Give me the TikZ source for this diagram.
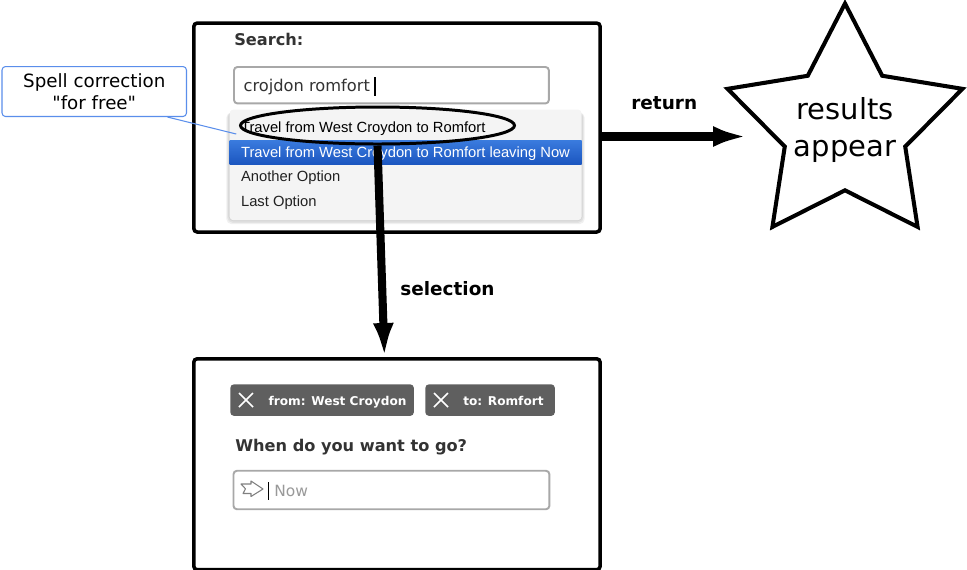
\documentclass[tikz,border=0pt]{standalone}
\usepackage{fontspec}
\setmainfont{DejaVu Sans}
\newfontfamily\arialfont{Liberation Sans}
\usetikzlibrary{arrows.meta,positioning,shapes.geometric}
\definecolor{uitext}{HTML}{333333}
\definecolor{fieldline}{HTML}{A8A8A8}
\definecolor{menufill}{HTML}{F4F4F4}
\definecolor{chipfill}{HTML}{5F5F5F}
\definecolor{notecol}{HTML}{5A8EEB}
\definecolor{hitop}{HTML}{3A7BDE}
\definecolor{hibot}{HTML}{1B55BF}

\begin{document}
\begin{tikzpicture}[
    x=0.02cm, y=-0.02cm,
    >={Latex[length=0.68cm,width=0.42cm]},
    screen/.style={
        draw,
        line width=2pt,
        rounded corners=2pt,
        anchor=north west,
        inner sep=0pt
    },
    field/.style={
        draw=fieldline,
        line width=1.1pt,
        rounded corners=2pt,
        fill=white,
        anchor=north west,
        inner sep=0pt
    },
    chip/.style={
        fill=chipfill,
        rounded corners=2pt,
        anchor=north west,
        inner sep=0pt,
        minimum height=0.63cm
    },
    lbl/.style={inner sep=0pt, anchor=base west},
    uihead/.style={lbl, text=uitext, font=\fontsize{9.2}{11}\selectfont\bfseries},
    option/.style={lbl, text=black!87, font=\arialfont\fontsize{8.4}{10}\selectfont},
    chiptext/.style={lbl, text=white, font=\fontsize{6.9}{8}\selectfont\bfseries},
    steplabel/.style={lbl, font=\fontsize{10.5}{12}\selectfont\bfseries},
    flow/.style={->, line width=4.6pt}
  ]
  \useasboundingbox (0,0) rectangle (967,569);

  % the two screens
  \node [screen, minimum width=8.13cm, minimum height=4.18cm] (searchbox) at (192,21.3) {};
  \node [screen, minimum width=8.13cm, minimum height=4.22cm] (formbox) at (192,357) {};

  % search screen
  \node [uihead] (searchlbl) at (234,45) {Search:};
  \node [field, minimum width=6.3cm, minimum height=0.73cm] (query) at (233,66) {};
  \node [lbl, text=uitext, font=\fontsize{9.25}{11}\selectfont] (querytext) at (243.3,91.5) {crojdon romfort};
  \draw [line width=0.7pt] (375,77) -- (375,96);

  \foreach \s in {1,2,3}
    \fill [black, opacity=0.06, rounded corners=3pt] (229.3-\s,111+\s*0.5) rectangle (581.7+\s,220+\s*1.4);
  \node [fill=menufill, rounded corners=2pt, anchor=north west, inner sep=0pt,
         minimum width=7.04cm, minimum height=2.21cm] (menu) at (229.3,109.3) {};
  \node [top color=hitop, bottom color=hibot, anchor=north west, inner sep=0pt,
         minimum width=7.04cm, minimum height=0.486cm] (hilite) at (229.3,140) {};
  \node [option, text=black] (opt1) at (240.7,132.5) {Travel from West Croydon to Romfort};
  \node [option, text=white] (opt2) at (240.7,157.3) {Travel from West Croydon to Romfort leaving Now};
  \node [option] (opt3) at (240.7,181.7) {Another Option};
  \node [option] (opt4) at (240.7,206.5) {Last Option};

  \node [ellipse, draw, line width=1.7pt, inner sep=0pt,
         minimum width=5.48cm, minimum height=0.74cm] (pick) at (377.5,125.5) {};

  % callout
  \node [draw=notecol, line width=0.6pt, rounded corners=2pt, fill=white, anchor=north west,
         inner sep=0pt, minimum width=3.69cm, minimum height=1cm, align=center,
         font=\fontsize{10.4}{12.4}\selectfont] (spellnote) at (1.5,66) {Spell correction\\\textquotedbl for free\textquotedbl};
  \draw [notecol, line width=0.6pt] ([xshift=-0.39cm]spellnote.south east) -- ([xshift=-0.09cm,yshift=-0.03cm]opt1.base west);

  % result
  \node [star, star points=5, star point ratio=1.95, draw, line width=2.3pt, inner sep=0pt,
         minimum size=4.94cm] (results) at (845,127) {};
  \node [align=center, inner sep=0pt, font=\fontsize{16.5}{20.5}\selectfont] (resultstext)
        at ([yshift=-0.06cm]results.center) {results\\appear};
  \coordinate (retend) at (747,136.5);
  \draw [flow] (searchbox.east |- retend) -- (retend);
  \node [steplabel] (retlbl) at (631,109.5) {return};

  \draw [flow] (pick.south) -- ([xshift=-0.25cm]formbox.north);
  \node [steplabel] (sellbl) at (400,295) {selection};

  % form screen
  \node [chip, minimum width=3.67cm] (fromchip) at (230,384) {};
  \node [chip, minimum width=2.59cm] (tochip) at (425,384) {};
  \draw [white, line width=0.9pt] (239,393) -- (253,407) (239,407) -- (253,393);
  \draw [white, line width=0.9pt] (434,393) -- (448,407) (434,407) -- (448,393);
  \node [chiptext] (fromtext) at (268.3,405) {from: West Croydon};
  \node [chiptext] (totext) at (463,405) {to: Romfort};

  \node [uihead] (whenlbl) at (235,451.5) {When do you want to go?};
  \node [field, minimum width=6.32cm, minimum height=0.77cm] (whenfield) at (232.5,469.8) {};
  \draw [gray, line width=0.6pt, line join=round]
    (241,484) -- (251,484) -- (251,481) -- (263,489) -- (251,496.5) -- (251,493.5) -- (243,493.5) -- (245.5,488.8) -- cycle;
  \draw [line width=0.7pt] (268.3,482) -- (268.3,500);
  \node [lbl, text=black!40, font=\fontsize{8.8}{10}\selectfont] (nowtext) at (274,496.7) {Now};

\end{tikzpicture}
\end{document}
